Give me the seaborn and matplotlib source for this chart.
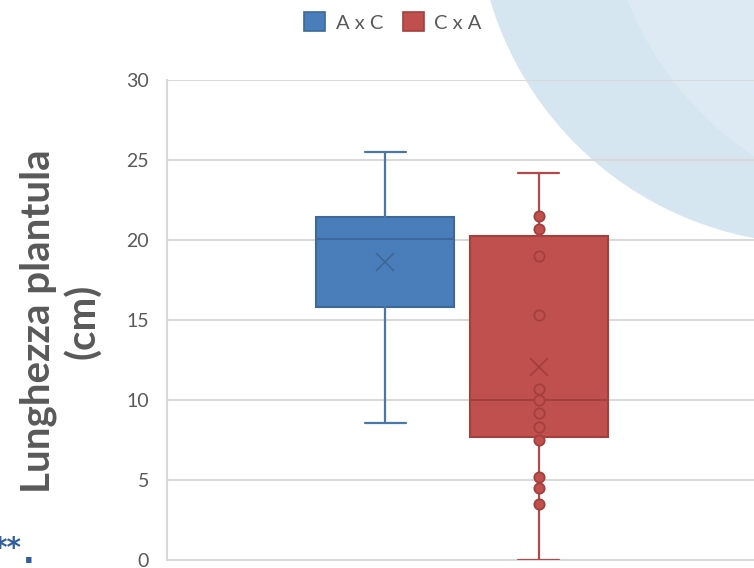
import numpy as np
import pandas as pd
import matplotlib
matplotlib.use("Agg")
import matplotlib.pyplot as plt
from matplotlib.patches import Circle, Patch
import seaborn as sns

# ---- data ----
series = ["A x C", "C x A"]
q1 = [15.83, 7.67]
median = [20.04, 10.0]
q3 = [21.42, 20.25]
whislo = [8.58, 0.0]
whishi = [25.48, 24.21]
mean = [18.6, 12.04]
# inner points shown for C x A
ca_points = [21.5, 20.7, 18.98, 15.3, 10.7, 10.02, 9.19, 8.31, 7.5, 5.2, 4.48, 3.5]
y_ticks = [0, 5, 10, 15, 20, 25, 30]

face_colors = ["#4a7ebb", "#c0504d"]
edge_colors = ["#3e6898", "#a3403d"]
whisk_colors = ["#4a76a8", "#b5494a"]

sns.set_theme(style="white")
plt.rcParams["font.family"] = ["Lato", "DejaVu Sans"]

W, H = 754, 568
fig = plt.figure(figsize=(W / 100, H / 100), dpi=100)
fig.patch.set_facecolor("white")

# decorative background circles (slide design)
c1 = Circle((8.17, (H + 97) / 100), 3.41, transform=fig.dpi_scale_trans,
            facecolor="#d6e6f1", edgecolor="none", zorder=-2)
c2 = Circle((9.40, (H + 124) / 100), 3.365, transform=fig.dpi_scale_trans,
            facecolor="#dde9f3", edgecolor="none", zorder=-1)
fig.patches.extend([c1, c2])

ax = fig.add_axes([167 / W, 8 / H, 590 / W, 480 / H])
ax.set_facecolor("none")
ax.set_zorder(1)

positions = [-0.261, 0.261]
stats = []
for i, s in enumerate(series):
    stats.append(dict(label=s, q1=q1[i], med=median[i], q3=q3[i],
                      whislo=whislo[i], whishi=whishi[i], mean=mean[i], fliers=[]))

for i in range(2):
    ax.bxp([stats[i]], positions=[positions[i]], widths=0.471, patch_artist=True,
           showmeans=True, showfliers=False, capwidths=0.139,
           boxprops=dict(facecolor=face_colors[i], edgecolor=edge_colors[i], linewidth=1.5),
           medianprops=dict(color=edge_colors[i], linewidth=1.5),
           whiskerprops=dict(color=whisk_colors[i], linewidth=1.6),
           capprops=dict(color=whisk_colors[i], linewidth=1.6),
           meanprops=dict(marker="x", markeredgecolor=edge_colors[i], markersize=13,
                          markeredgewidth=1.3, linestyle="none"),
           manage_ticks=False, zorder=3)

pts = pd.DataFrame({"x": np.full(len(ca_points), positions[1]), "y": ca_points})
sns.scatterplot(data=pts, x="x", y="y", ax=ax, s=55, color=face_colors[1],
                edgecolor=edge_colors[1], linewidth=1.3, zorder=4, legend=False)

ax.set_xlim(-1, 1)
ax.set_ylim(0, 30)
ax.set_xticks([])
ax.set_yticks(y_ticks)
ax.set_yticklabels([str(t) for t in y_ticks])
ax.tick_params(axis="y", length=0, pad=13, labelsize=14, labelcolor="#595959")
ax.set_xlabel("")
ax.set_ylabel("")
ax.yaxis.grid(True, color="#d9d9d9", linewidth=1.5, zorder=0)
ax.set_axisbelow(True)
for side in ["top", "right", "bottom"]:
    ax.spines[side].set_visible(False)
ax.spines["left"].set_color("#d9d9d9")
ax.spines["left"].set_linewidth(1.5)
ax.axhline(0, color="#d9d9d9", linewidth=1.5, zorder=0, clip_on=False)

fig.text(61 / W, 1 - 321 / H, "Lunghezza plantula\n(cm)", rotation=90,
         ha="center", va="center", multialignment="center", linespacing=1.22,
         fontsize=29, fontweight="bold", color="#595959")

handles = [Patch(facecolor=face_colors[i], edgecolor=edge_colors[i], linewidth=1.2,
                 label=series[i]) for i in range(2)]
fig.legend(handles=handles, loc="center", bbox_to_anchor=(393 / W, 1 - 22 / H), ncol=2,
           frameon=False, fontsize=14.5, handlelength=1.05, handleheight=1.05,
           handletextpad=0.5, columnspacing=1.0, labelcolor="#595959")

# fragment of slide text at the bottom-left edge (partly cut off, as in the reference)
fig.text(21 / W, 1 - 557 / H, "**", ha="right", va="baseline", fontsize=20,
         fontweight="bold", color="#2f5fa0", family="DejaVu Sans")
fig.text(23 / W, 1 - 563 / H, ".", ha="left", va="baseline", fontsize=22,
         fontweight="bold", color="#2f5fa0", family="DejaVu Sans")

fig.savefig("out.png", dpi=100, facecolor="white")
